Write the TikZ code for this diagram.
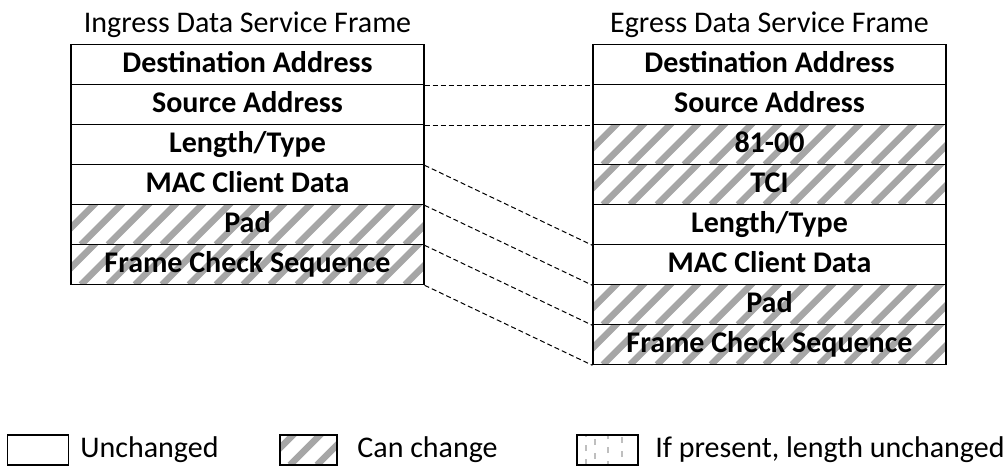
\documentclass[tikz,border=0pt]{standalone}
\usepackage{fontspec}
\setmainfont{Carlito}
\usetikzlibrary{positioning}
\begin{document}
\begin{tikzpicture}[x=0.5pt,y=-0.5pt,node distance={20pt},
  field/.style = {draw, line width=0.6pt, minimum width=176.5pt, minimum height=20pt, inner sep=0pt, text height=10pt, text depth=2.2pt, font=\fontsize{15}{18}\selectfont\bfseries},
  chg/.style = {field, path picture={\foreach \k in {0,...,15} \draw[black!35, line width=3.3pt] ([xshift=\k*13.5pt-22pt]path picture bounding box.south west) -- ++(26pt,26pt);}},
  pres/.style = {field, path picture={\foreach \x/\p in {4.5/0,9/4,15.5/1,22.5/3} \draw[black!25, line width=1pt, dash pattern=on 3pt off 4pt, dash phase=\p pt] ([xshift=\x pt]path picture bounding box.south west) -- ([xshift=\x pt]path picture bounding box.north west);}},
  link/.style = {dash pattern=on 2.5pt off 1.5pt, line width=0.5pt},
  lbl/.style = {anchor=west, inner sep=0pt, font=\fontsize{15}{18}\selectfont}]
\useasboundingbox (0,0) rectangle (1008,468);
\node[field] (i1) at (247.5,64.7) {Destination Address};
\node[field] (i2) [below of=i1] {Source Address};
\node[field] (i3) [below of=i2] {Length/Type};
\node[field] (i4) [below of=i3] {MAC Client Data};
\node[chg] (i5) [below of=i4] {Pad};
\node[chg] (i6) [below of=i5] {Frame Check Sequence};
\node[field] (e1) at (769.5,64.7) {Destination Address};
\node[field] (e2) [below of=e1] {Source Address};
\node[chg] (e3) [below of=e2] {81-00};
\node[chg] (e4) [below of=e3] {TCI};
\node[field] (e5) [below of=e4] {Length/Type};
\node[field] (e6) [below of=e5] {MAC Client Data};
\node[chg] (e7) [below of=e6] {Pad};
\node[chg] (e8) [below of=e7] {Frame Check Sequence};
\node[font=\fontsize{15}{18}\selectfont] (ti) [above of=i1] {Ingress Data Service Frame};
\node[font=\fontsize{15}{18}\selectfont] (te) [above of=e1] {Egress Data Service Frame};
\draw[link] (i1.south east) -- (e1.south west);
\draw[link] (i2.south east) -- (e2.south west);
\draw[link] (i3.south east) -- (e5.south west);
\draw[link] (i4.south east) -- (e6.south west);
\draw[link] (i5.south east) -- (e7.south west);
\draw[link] (i6.south east) -- (e8.south west);
\node[field, minimum width=30.5pt, minimum height=15pt] (k1) at (37.8,450) {};
\node[lbl] (l1) at (80,450) {Unchanged};
\node[chg, minimum width=28.5pt, minimum height=15pt] (k2) at (308.5,450) {};
\node[lbl] (l2) at (357,450) {Can change};
\node[pres, minimum width=30.5pt, minimum height=15pt] (k3) at (607.5,450) {};
\node[lbl] (l3) at (655,450) {If present, length unchanged};
\end{tikzpicture}
\end{document}
